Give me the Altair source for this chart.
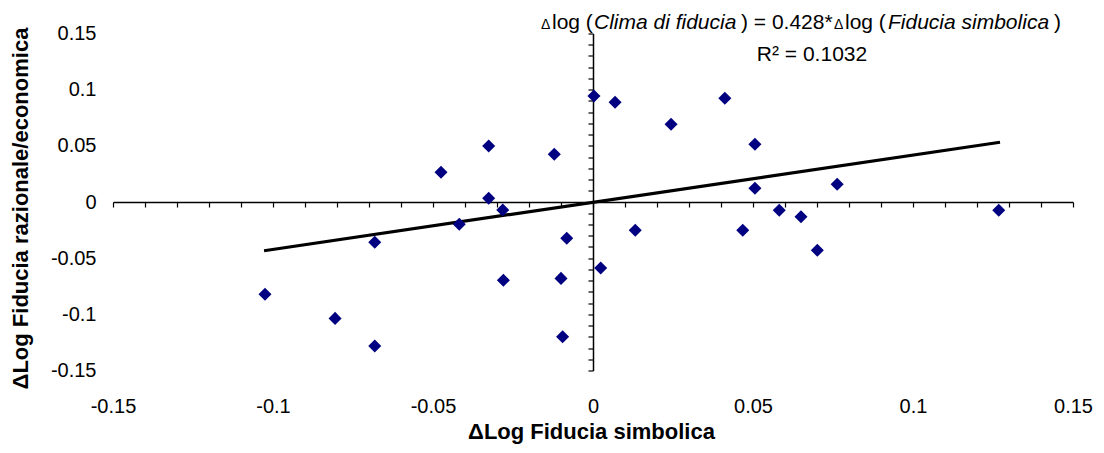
import altair as alt
import pandas as pd

# ---- data ----
x_vals = [-0.1025, -0.0806, -0.0682, -0.0682, -0.0475, -0.0418, -0.0326, -0.0326,
          -0.0282, -0.0280, -0.0121, -0.0100, -0.0095, -0.0082, 0.0003, 0.0024,
          0.0069, 0.0132, 0.0244, 0.0412, 0.0468, 0.0506, 0.0506, 0.0582,
          0.0650, 0.0701, 0.0763, 0.1268]
y_vals = [-0.0822, -0.1036, -0.1282, -0.0359, 0.0264, -0.0199, 0.0499, 0.0033,
          -0.0071, -0.0697, 0.0425, -0.0680, -0.1200, -0.0323, 0.0944, -0.0588,
          0.0888, -0.0252, 0.0692, 0.0923, -0.0252, 0.0514, 0.0122, -0.0074,
          -0.0131, -0.0430, 0.0158, -0.0074]
trend_x = [-0.1028, 0.1272]
trend_y = [-0.0434, 0.0532]
label_ticks = [-0.15, -0.1, -0.05, 0, 0.05, 0.1, 0.15]
minor_ticks = [round(-0.15 + 0.01 * i, 2) for i in range(31)]

x_title = "ΔLog Fiducia simbolica"
y_title = "ΔLog Fiducia razionale/economica"
eq_parts = ["Δ", "log (", "Clima di fiducia", ") = 0.428*", "Δ", "log (", "Fiducia simbolica", ")"]
eq_styles = ["normal", "normal", "italic", "normal", "normal", "normal", "italic", "normal"]
eq_sizes = [14, 21, 21, 21, 14, 21, 21, 21]
eq_left = [541, 552, 594, 741, 834, 845, 888, 1054]   # page x of each segment
r2_text = "R² = 0.1032"

FONT = "Liberation Sans"
W, H = 960, 337
PAD_L, PAD_T = 105, 25.5

pts = pd.DataFrame({"x": x_vals, "y": y_vals})
trend = pd.DataFrame({"x": trend_x, "y": trend_y})

xs = alt.Scale(domain=[-0.15, 0.15], nice=False, zero=False)
ys = alt.Scale(domain=[-0.15, 0.15], nice=False, zero=False)

label_axis_x = alt.Axis(
    orient="bottom", values=label_ticks, labelExpr="toString(datum.value)",
    domain=False, ticks=False, tickSize=0, grid=False,
    labelFont=FONT, labelFontSize=20, labelColor="black", labelPadding=26,
    labelFlush=False, labelOverlap=False, labelBound=False,
    title=x_title, titleFont=FONT, titleFontSize=22, titleFontWeight="bold",
    titleColor="black", titleBaseline="alphabetic", titleY=68, titleX=478,
)
label_axis_y = alt.Axis(
    orient="left", values=label_ticks, labelExpr="toString(datum.value)",
    domain=False, ticks=False, tickSize=0, grid=False,
    labelFont=FONT, labelFontSize=20, labelColor="black", labelPadding=17,
    labelFlush=False, labelOverlap=False, labelBound=False,
    title=y_title, titleFont=FONT, titleFontSize=22, titleFontWeight="bold",
    titleColor="black", titleBaseline="alphabetic", titleAngle=270,
    titleX=-85.5, titleY=174.5, titleAlign="center",
)
inner_x = alt.Axis(
    orient="bottom", offset=-168.5, values=minor_ticks, labels=False,
    domain=True, domainColor="black", domainWidth=1.5,
    ticks=True, tickSize=5, tickColor="black", tickWidth=1.2, grid=False,
)
inner_y = alt.Axis(
    orient="left", offset=-480, values=minor_ticks, labels=False,
    domain=True, domainColor="black", domainWidth=1.5,
    ticks=True, tickSize=5, tickColor="black", tickWidth=1.2, grid=False,
)

points = alt.Chart(pts).mark_point(
    shape="diamond", filled=True, size=170, color="#000080", opacity=1
).encode(
    x=alt.X("x:Q", scale=xs, axis=label_axis_x),
    y=alt.Y("y:Q", scale=ys, axis=label_axis_y),
)

trend_line = alt.Chart(trend).mark_line(color="black", strokeWidth=3.2).encode(
    x=alt.X("x:Q", scale=xs, axis=inner_x, title=None),
    y=alt.Y("y:Q", scale=ys, axis=inner_y, title=None),
)

texts = []
for part, style, size, left in zip(eq_parts, eq_styles, eq_sizes, eq_left):
    texts.append(
        alt.Chart(pd.DataFrame({"t": [part]})).mark_text(
            font=FONT, fontSize=size, fontStyle=style, color="black",
            align="left", baseline="alphabetic",
        ).encode(text="t:N", x=alt.value(left - 113), y=alt.value(29 - 33.5))
    )
texts.append(
    alt.Chart(pd.DataFrame({"t": [r2_text]})).mark_text(
        font=FONT, fontSize=21, color="black", align="center", baseline="alphabetic",
    ).encode(text="t:N", x=alt.value(812 - 113), y=alt.value(61 - 33.5))
)

chart = alt.layer(trend_line, points, *texts).resolve_axis(
    x="independent", y="independent"
).properties(
    width=W, height=H,
    autosize=alt.AutoSizeParams(type="none"),
    padding={"left": PAD_L, "top": PAD_T, "right": 23, "bottom": 74.5},
    background="white",
).configure_view(stroke=None)

chart.save("out.html", embed_options={"renderer": "svg", "actions": False})
